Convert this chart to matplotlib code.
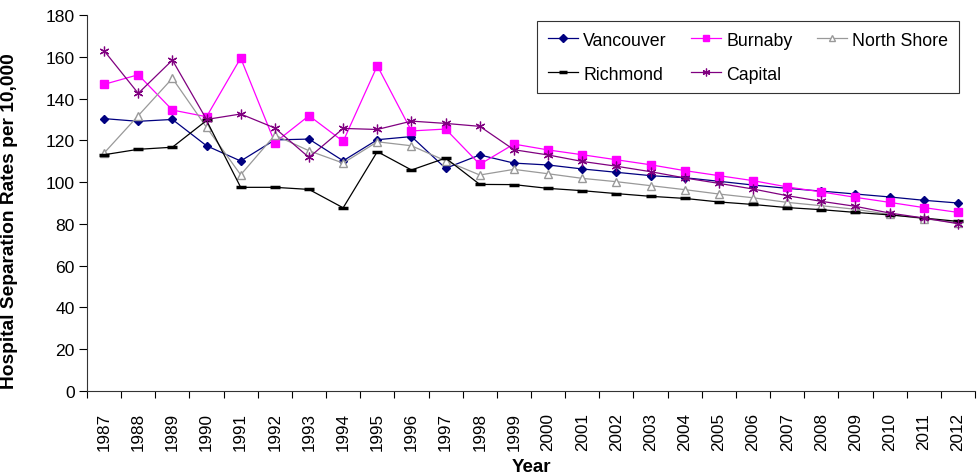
import matplotlib
matplotlib.use("Agg")
import matplotlib.pyplot as plt
import numpy as np

plt.rcParams['font.family'] = ['Liberation Sans', 'DejaVu Sans']

# --- data ---
years = [str(y) for y in range(1987, 2013)]

vancouver = [130.4, 129.1, 130.0, 117.4, 110.1, 120.2, 120.6, 110.2, 120.3, 121.8,
             106.6, 113.0, 109.1, 108.2, 106.3, 104.7, 103.1, 102.1, 100.4, 98.6,
             97.0, 95.7, 94.3, 92.9, 91.3, 90.0]
burnaby = [146.8, 151.4, 134.5, 131.3, 159.4, 118.9, 131.8, 119.5, 155.7, 124.5,
           125.4, 108.5, 118.2, 115.4, 113.1, 110.7, 108.3, 105.5, 103.1, 100.7,
           97.7, 95.3, 92.7, 90.3, 87.8, 85.5]
north_shore = [113.9, 131.8, 149.7, 126.2, 103.5, 122.5, 115.0, 109.1, 119.3, 117.4,
               110.2, 103.4, 106.1, 104.0, 101.8, 100.2, 98.3, 96.4, 94.3, 92.5,
               90.3, 88.7, 87.0, 84.5, 82.5, 80.5]
richmond = [113.1, 115.7, 116.7, 129.5, 97.5, 97.5, 96.5, 87.7, 114.6, 105.8,
            111.5, 98.9, 98.8, 97.0, 95.9, 94.5, 93.2, 92.2, 90.5, 89.3,
            87.8, 86.8, 85.5, 84.3, 82.8, 81.2]
capital = [162.9, 142.5, 158.4, 130.0, 132.6, 125.9, 111.8, 125.7, 125.2, 129.2,
           128.1, 126.7, 115.5, 113.0, 109.9, 107.6, 105.0, 102.0, 99.4, 96.7,
           93.5, 90.8, 88.4, 85.2, 82.8, 80.1]

x = np.arange(len(years))

fig = plt.figure(figsize=(9.8, 4.77), dpi=100)
ax = fig.add_axes([87 / 980, 1 - 392 / 477, 888 / 980, 376 / 477])

lw = 0.9
h_van, = ax.plot(x, vancouver, color='#000080', lw=lw, marker='D', ms=4.5,
                 mfc='#000080', mec='#000080', label='Vancouver')
h_bur, = ax.plot(x, burnaby, color='#FF00FF', lw=lw, marker='s', ms=5.5,
                 mfc='#FF00FF', mec='#FF00FF', label='Burnaby')
h_ns, = ax.plot(x, north_shore, color='#999999', lw=lw, marker='^', ms=6,
                mfc='white', mec='#999999', label='North Shore')
h_ric, = ax.plot(x, richmond, color='black', lw=lw, marker='_', ms=6.5,
                 mew=2.5, mec='black', label='Richmond')
h_cap, = ax.plot(x, capital, color='#800080', lw=lw, marker=(6, 2, 0), ms=7,
                 mew=0.9, mec='#800080', label='Capital')

# category axis with ticks between the years
ax.set_xlim(-0.5, len(years) - 0.5)
ax.set_ylim(0, 180)
ax.set_yticks(np.arange(0, 181, 20))
ax.set_xticks(x)
ax.set_xticklabels(years, rotation=90, fontsize=12.3)
ax.set_xticks(np.arange(-0.5, len(years), 1), minor=True)
ax.tick_params(axis='x', which='major', length=0, pad=15)
ax.tick_params(axis='x', which='minor', length=5, width=0.8, direction='out')
ax.tick_params(axis='y', length=6, width=0.8, direction='out', labelsize=12.6, pad=3)

for side in ['top', 'right']:
    ax.spines[side].set_visible(False)
for side in ['left', 'bottom']:
    ax.spines[side].set_linewidth(0.8)
    ax.spines[side].set_color('#333333')

ax.set_ylabel('Hospital Separation Rates per 10,000', fontsize=13.8, fontweight='bold')
ax.yaxis.set_label_coords(-0.078, 0.455)
ax.set_xlabel('Year', fontsize=13.5, fontweight='bold')
ax.xaxis.set_label_coords(0.501, -0.178)

leg = ax.legend([h_van, h_ric, h_bur, h_cap, h_ns],
                ['Vancouver', 'Richmond', 'Burnaby', 'Capital', 'North Shore'],
                ncol=3, loc='upper right', bbox_to_anchor=(0.982, 0.984),
                borderaxespad=0, fancybox=False, framealpha=1, fontsize=12.8,
                handlelength=1.7, handletextpad=0.3, columnspacing=1.35,
                markerscale=0.8, labelspacing=0.95, borderpad=0.6)
leg.get_frame().set_edgecolor('#333333')
leg.get_frame().set_linewidth(0.8)

fig.savefig('out.png', dpi=100)
